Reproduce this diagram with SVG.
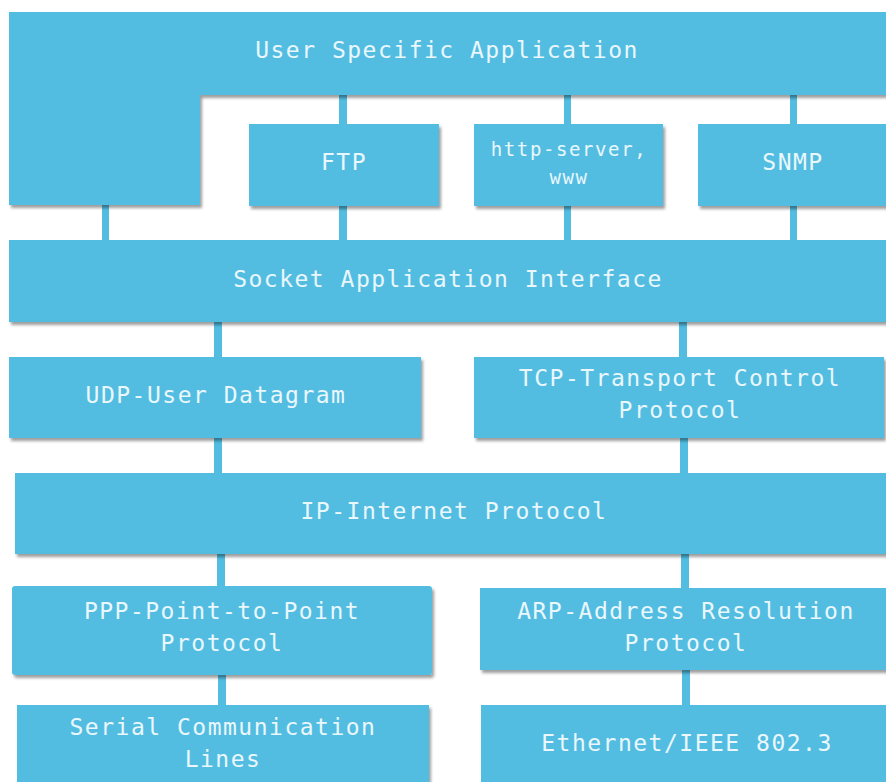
<svg xmlns="http://www.w3.org/2000/svg" width="886" height="782" viewBox="0 0 886 782">
<defs>
<filter id="sh" x="-5%" y="-10%" width="115%" height="130%">
<feDropShadow dx="2" dy="3" stdDeviation="1.8" flood-color="#000" flood-opacity="0.38"/>
</filter>
<style>
.b{fill:#52bde1;filter:url(#sh)}
.c{fill:#52bde1}
.t{font-family:"DejaVu Sans Mono","Liberation Mono",monospace;font-size:23px;letter-spacing:1.5px;fill:#eaf7fc;text-anchor:middle}
.s{font-size:19px;letter-spacing:1.6px}
</style>
</defs>
<rect width="886" height="782" fill="#ffffff"/>
<g id="connectors">
<rect class="c" x="102" y="200" width="7" height="45"/>
<rect class="c" x="339" y="90" width="8" height="40"/>
<rect class="c" x="339" y="200" width="8" height="45"/>
<rect class="c" x="564" y="90" width="7" height="40"/>
<rect class="c" x="564" y="200" width="7" height="45"/>
<rect class="c" x="790" y="90" width="7" height="40"/>
<rect class="c" x="790" y="200" width="7" height="45"/>
<rect class="c" x="214" y="318" width="8" height="44"/>
<rect class="c" x="679" y="318" width="8" height="44"/>
<rect class="c" x="214" y="434" width="8" height="44"/>
<rect class="c" x="680" y="434" width="8" height="44"/>
<rect class="c" x="217" y="550" width="8" height="40"/>
<rect class="c" x="681" y="550" width="8" height="42"/>
<rect class="c" x="218" y="670" width="8" height="40"/>
<rect class="c" x="682" y="666" width="8" height="44"/>
</g>
<g id="user-app">
<path class="b" d="M9 12 H886 V95 H200 V205 H9 Z"/>
<text class="t" x="447" y="58">User Specific Application</text>
</g>
<g id="ftp">
<rect class="b" x="249" y="124" width="190" height="82"/>
<text class="t" x="344" y="170">FTP</text>
</g>
<g id="http">
<rect class="b" x="474" y="124" width="189" height="82"/>
<text class="t s" x="569" y="156">http-server,</text>
<text class="t s" x="569" y="184">www</text>
</g>
<g id="snmp">
<rect class="b" x="698" y="124" width="194" height="82"/>
<text class="t" x="793" y="170">SNMP</text>
</g>
<g id="socket">
<rect class="b" x="9" y="240" width="883" height="82"/>
<text class="t" x="448" y="287">Socket Application Interface</text>
</g>
<g id="udp">
<rect class="b" x="9" y="357" width="412" height="81"/>
<text class="t" x="216" y="403">UDP-User Datagram</text>
</g>
<g id="tcp">
<rect class="b" x="474" y="357" width="410" height="81"/>
<text class="t" x="680" y="386">TCP-Transport Control</text>
<text class="t" x="680" y="418">Protocol</text>
</g>
<g id="ip">
<rect class="b" x="15" y="473" width="877" height="81"/>
<text class="t" x="454" y="519">IP-Internet Protocol</text>
</g>
<g id="ppp">
<rect class="b" x="12" y="586" width="420" height="89" rx="3"/>
<text class="t" x="222" y="619">PPP-Point-to-Point</text>
<text class="t" x="222" y="651">Protocol</text>
</g>
<g id="arp">
<rect class="b" x="480" y="588" width="412" height="82"/>
<text class="t" x="686" y="619">ARP-Address Resolution</text>
<text class="t" x="686" y="651">Protocol</text>
</g>
<g id="serial">
<rect class="b" x="17" y="705" width="412" height="90"/>
<text class="t" x="223" y="735">Serial Communication</text>
<text class="t" x="223" y="767">Lines</text>
</g>
<g id="ethernet">
<rect class="b" x="481" y="705" width="411" height="90"/>
<text class="t" x="687" y="751">Ethernet/IEEE 802.3</text>
</g>
</svg>
